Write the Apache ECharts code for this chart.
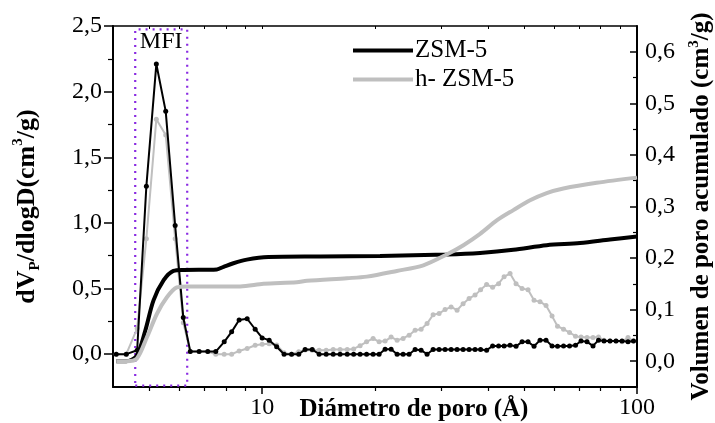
<!DOCTYPE html>
<html>
<head>
<meta charset="utf-8">
<script src="https://cdn.jsdelivr.net/npm/echarts@6/dist/echarts.min.js"></script>
<style>
  html, body { margin: 0; padding: 0; background: #fff; }
  #chart { width: 715px; height: 423px; }
</style>
</head>
<body>
<div id="chart"></div>
<script>
// Pore diameter (Å) of the differential distribution points
const diamDiff = [
  4.08, 4.34, 4.64, 4.91, 5.22, 5.53, 5.86, 6.16, 6.43, 6.79,
  7.16, 7.52, 7.92, 8.29, 8.68, 9.12, 9.58, 10.0, 10.44, 10.93,
  11.44, 11.98, 12.52, 13.02, 13.60, 14.19, 14.82, 15.47, 16.14, 16.86,
  17.54, 18.25, 18.99, 19.77, 20.51, 21.28, 22.08, 22.91, 23.77, 24.66,
  25.59, 26.55, 27.54, 28.58, 29.65, 30.76, 31.92, 33.11, 34.36, 35.65,
  36.98, 38.26, 39.70, 41.19, 42.73, 44.20, 45.85, 47.57, 49.36, 51.21,
  53.13, 55.12, 57.19, 59.34, 61.38, 63.68, 66.07, 68.55, 70.90, 73.56,
  76.32, 78.94, 81.66, 84.72, 87.90, 91.20, 94.62, 97.88
];
// dVp/dlogD (cm3/g) — ZSM-5
const zsmDiff = [
  0.0, 0.0, 0.03, 1.28, 2.21, 1.85, 0.98, 0.28, 0.02, 0.02,
  0.02, 0.02, 0.094, 0.17, 0.26, 0.27, 0.19, 0.124, 0.107, 0.056,
  0.0, 0.0, 0.0, 0.036, 0.036, 0.0, 0.0, 0.0, 0.0, 0.0,
  0.0, 0.0, 0.0, 0.0, 0.0, 0.038, 0.038, 0.0, 0.0, 0.0,
  0.036, 0.03, 0.0, 0.036, 0.036, 0.036, 0.036, 0.036, 0.036, 0.036,
  0.036, 0.036, 0.03, 0.063, 0.063, 0.063, 0.068, 0.06, 0.094, 0.094,
  0.06, 0.107, 0.107, 0.063, 0.06, 0.063, 0.063, 0.068, 0.1, 0.094,
  0.063, 0.107, 0.1, 0.1, 0.1, 0.1, 0.094, 0.1
];
// dVp/dlogD (cm3/g) — h- ZSM-5
const hzsmDiff = [
  0.0, 0.0, 0.196, 0.88, 1.79, 1.67, 0.88, 0.24, 0.02, 0.02,
  0.02, 0.0, 0.0, 0.0, 0.024, 0.043, 0.068, 0.076, 0.08, 0.07,
  0.01, 0.0, 0.018, 0.032, 0.03, 0.03, 0.03, 0.036, 0.036, 0.036,
  0.04, 0.065, 0.094, 0.12, 0.094, 0.1, 0.13, 0.107, 0.12, 0.145,
  0.183, 0.19, 0.233, 0.3, 0.31, 0.34, 0.36, 0.335, 0.385, 0.425,
  0.45, 0.49, 0.53, 0.51, 0.537, 0.59, 0.614, 0.537, 0.5, 0.49,
  0.41, 0.40, 0.37, 0.29, 0.213, 0.19, 0.165, 0.137, 0.13, 0.127,
  0.127, 0.13, 0.107, 0.1, 0.1, 0.094, 0.127, 0.1
];

// Cumulative pore volume (cm3/g) — ZSM-5
const diamCumZsm = [4.08, 4.34, 4.63, 4.88, 5.13, 5.46, 5.80, 6.17, 7.57, 7.89,
  8.38, 9.10, 10.39, 14.28, 20.64, 31.08, 38.14, 46.79, 57.42, 70.47, 84.72, 100];
const zsmCum = [0.0, 0.0, 0.011, 0.06, 0.118, 0.157, 0.175, 0.177, 0.178, 0.183,
  0.19, 0.197, 0.202, 0.203, 0.204, 0.207, 0.21, 0.216, 0.225, 0.229, 0.236, 0.242];

// Cumulative pore volume (cm3/g) — h- ZSM-5
const diamCumH = [4.08, 4.34, 4.63, 4.93, 5.24, 5.57, 5.92, 6.30, 8.74, 10.08,
  12.37, 13.16, 16.83, 19.02, 22.87, 26.92, 31.08, 34.43, 38.14, 42.25,
  46.79, 51.84, 57.42, 63.62, 78.07, 100];
const hzsmCum = [0.0, 0.0, 0.005, 0.047, 0.092, 0.124, 0.143, 0.145, 0.145, 0.15,
  0.153, 0.156, 0.161, 0.164, 0.175, 0.186, 0.207, 0.225, 0.247, 0.273,
  0.293, 0.312, 0.326, 0.335, 0.346, 0.356];

// Axis ticks
const xMajor = [10, 100];
const xMinor = [5, 6, 7, 8, 9, 20, 30, 40, 50, 60, 70, 80, 90];
const leftMajor = [0, 0.5, 1.0, 1.5, 2.0, 2.5];
const leftMinor = [0.25, 0.75, 1.25, 1.75, 2.25];
const rightMajor = [0, 0.1, 0.2, 0.3, 0.4, 0.5, 0.6];
const rightMinor = [0.05, 0.15, 0.25, 0.35, 0.45, 0.55];

// MFI micropore window
const mfiRange = [4.585, 6.31];

const FONT = 'Liberation Serif';
const BLACK = '#000000';
const GREY = '#bfbfbf';
const TICK_FONT = 24;
const comma = v => v.toFixed(1).replace('.', ',');

const zip = (xs, ys) => xs.map((x, i) => [x, ys[i]]);

const baseAxisLine = { show: true, onZero: false, lineStyle: { color: BLACK, width: 2 } };

const chart = echarts.init(document.getElementById('chart'), null, { renderer: 'canvas' });

chart.setOption({
  backgroundColor: '#ffffff',
  animation: false,
  textStyle: { fontFamily: FONT },
  grid: { left: 113, right: 78, top: 26, bottom: 36, containLabel: false, outerBoundsMode: 'none' },
  legend: {
    orient: 'vertical',
    left: 348,
    top: 33,
    itemWidth: 60,
    itemHeight: 4,
    itemGap: 4,
    icon: 'rect',
    data: ['ZSM-5', 'h- ZSM-5'],
    textStyle: { fontFamily: FONT, fontSize: 25, color: BLACK, padding: [0, 0, 0, -3] }
  },
  xAxis: [
    {
      type: 'log', logBase: 10, min: 4, max: 100, position: 'bottom',
      axisLine: baseAxisLine,
      axisTick: { show: true, inside: false, length: 7, customValues: xMajor,
        lineStyle: { color: BLACK, width: 1.5 } },
      axisLabel: { show: true, customValues: xMajor, margin: 9,
        fontFamily: FONT, fontSize: TICK_FONT, color: BLACK, formatter: v => String(Math.round(v)) },
      splitLine: { show: false },
      name: 'Diámetro de poro (Å)',
      nameLocation: 'middle',
      nameGap: 10,
      nameMoveOverlap: false,
      nameTextStyle: { fontFamily: FONT, fontSize: 25, fontWeight: 'bold', color: BLACK,
        verticalAlign: 'top', padding: [0, 0, 0, 78] }
    },
    {
      type: 'log', logBase: 10, min: 4, max: 100, position: 'bottom', offset: 0,
      axisLine: { show: false, onZero: false },
      axisTick: { show: true, inside: false, length: 4, customValues: xMinor,
        lineStyle: { color: BLACK, width: 1.2 } },
      axisLabel: { show: false },
      splitLine: { show: false }
    },
    {
      type: 'log', logBase: 10, min: 4, max: 100, position: 'top',
      axisLine: { show: true, onZero: false, lineStyle: { color: BLACK, width: 1.5 } },
      axisTick: { show: true, inside: true, length: 3, customValues: xMinor.concat(xMajor),
        lineStyle: { color: BLACK, width: 1 } },
      axisLabel: { show: false },
      splitLine: { show: false }
    }
  ],
  yAxis: [
    {
      type: 'value', min: -0.25, max: 2.5, position: 'left',
      axisLine: baseAxisLine,
      axisTick: { show: true, inside: false, length: 9, customValues: leftMajor,
        lineStyle: { color: BLACK, width: 1.5 } },
      axisLabel: { show: true, customValues: leftMajor, margin: 11,
        fontFamily: FONT, fontSize: TICK_FONT, color: BLACK, formatter: comma },
      splitLine: { show: false },
      name: '{b|dV}{sub|P}{b|/dlogD(cm}{sup|3}{b|/g)}',
      nameLocation: 'middle',
      nameRotate: 90,
      nameGap: 70,
      nameMoveOverlap: false,
      nameTextStyle: {
        color: BLACK,
        rich: {
          b: { fontFamily: FONT, fontSize: 26, fontWeight: 'bold', color: BLACK, lineHeight: 32 },
          sub: { fontFamily: FONT, fontSize: 15, fontWeight: 'bold', color: BLACK, verticalAlign: 'bottom', lineHeight: 32 },
          sup: { fontFamily: FONT, fontSize: 15, fontWeight: 'bold', color: BLACK, verticalAlign: 'top', lineHeight: 32 }
        }
      }
    },
    {
      type: 'value', min: -0.25, max: 2.5, position: 'left', offset: 0,
      axisLine: { show: false, onZero: false },
      axisTick: { show: true, inside: false, length: 5, customValues: leftMinor,
        lineStyle: { color: BLACK, width: 1.2 } },
      axisLabel: { show: false },
      splitLine: { show: false }
    },
    {
      type: 'value', min: -0.05, max: 0.65, position: 'right',
      axisLine: baseAxisLine,
      axisTick: { show: true, inside: true, length: 7, customValues: rightMajor,
        lineStyle: { color: BLACK, width: 1.5 } },
      axisLabel: { show: true, customValues: rightMajor, margin: 8,
        fontFamily: FONT, fontSize: TICK_FONT, color: BLACK, formatter: comma },
      splitLine: { show: false },
      name: '{b|Volumen de poro acumulado (cm}{sup|3}{b|/g)}',
      nameLocation: 'middle',
      nameRotate: 90,
      nameGap: 50,
      nameMoveOverlap: false,
      nameTextStyle: {
        color: BLACK,
        rich: {
          b: { fontFamily: FONT, fontSize: 25, fontWeight: 'bold', color: BLACK, lineHeight: 30 },
          sup: { fontFamily: FONT, fontSize: 15, fontWeight: 'bold', color: BLACK, verticalAlign: 'top', lineHeight: 30 }
        }
      }
    },
    {
      type: 'value', min: -0.05, max: 0.65, position: 'right', offset: 0,
      axisLine: { show: false, onZero: false },
      axisTick: { show: true, inside: true, length: 4, customValues: rightMinor,
        lineStyle: { color: BLACK, width: 1.2 } },
      axisLabel: { show: false },
      splitLine: { show: false }
    }
  ],
  series: [
    {
      name: 'ZSM-5 dV/dlogD',
      type: 'line',
      xAxisIndex: 0, yAxisIndex: 0,
      data: zip(diamDiff, zsmDiff),
      symbol: 'circle', symbolSize: 5,
      lineStyle: { color: BLACK, width: 2 },
      itemStyle: { color: BLACK },
      z: 3,
      markArea: {
        silent: true,
        itemStyle: { color: 'rgba(0,0,0,0)', borderColor: '#8a2be2', borderWidth: 2.2, borderType: [2, 5] },
        label: { show: true, position: 'insideTop', distance: 2, formatter: 'MFI',
          fontFamily: FONT, fontSize: 24, color: BLACK },
        data: [[{ xAxis: mfiRange[0], yAxis: -0.24 }, { xAxis: mfiRange[1], yAxis: 2.475 }]]
      }
    },
    {
      name: 'h- ZSM-5 dV/dlogD',
      type: 'line',
      xAxisIndex: 0, yAxisIndex: 0,
      data: zip(diamDiff, hzsmDiff),
      symbol: 'circle', symbolSize: 5,
      lineStyle: { color: GREY, width: 2 },
      itemStyle: { color: GREY },
      z: 2
    },
    {
      name: 'ZSM-5',
      type: 'line',
      xAxisIndex: 0, yAxisIndex: 2,
      data: zip(diamCumZsm, zsmCum),
      symbol: 'none', smooth: 0.3,
      lineStyle: { color: BLACK, width: 4 },
      itemStyle: { color: BLACK },
      z: 4
    },
    {
      name: 'h- ZSM-5',
      type: 'line',
      xAxisIndex: 0, yAxisIndex: 2,
      data: zip(diamCumH, hzsmCum),
      symbol: 'none', smooth: 0.3,
      lineStyle: { color: GREY, width: 4 },
      itemStyle: { color: GREY },
      z: 4
    }
  ]
});
</script>
</body>
</html>
